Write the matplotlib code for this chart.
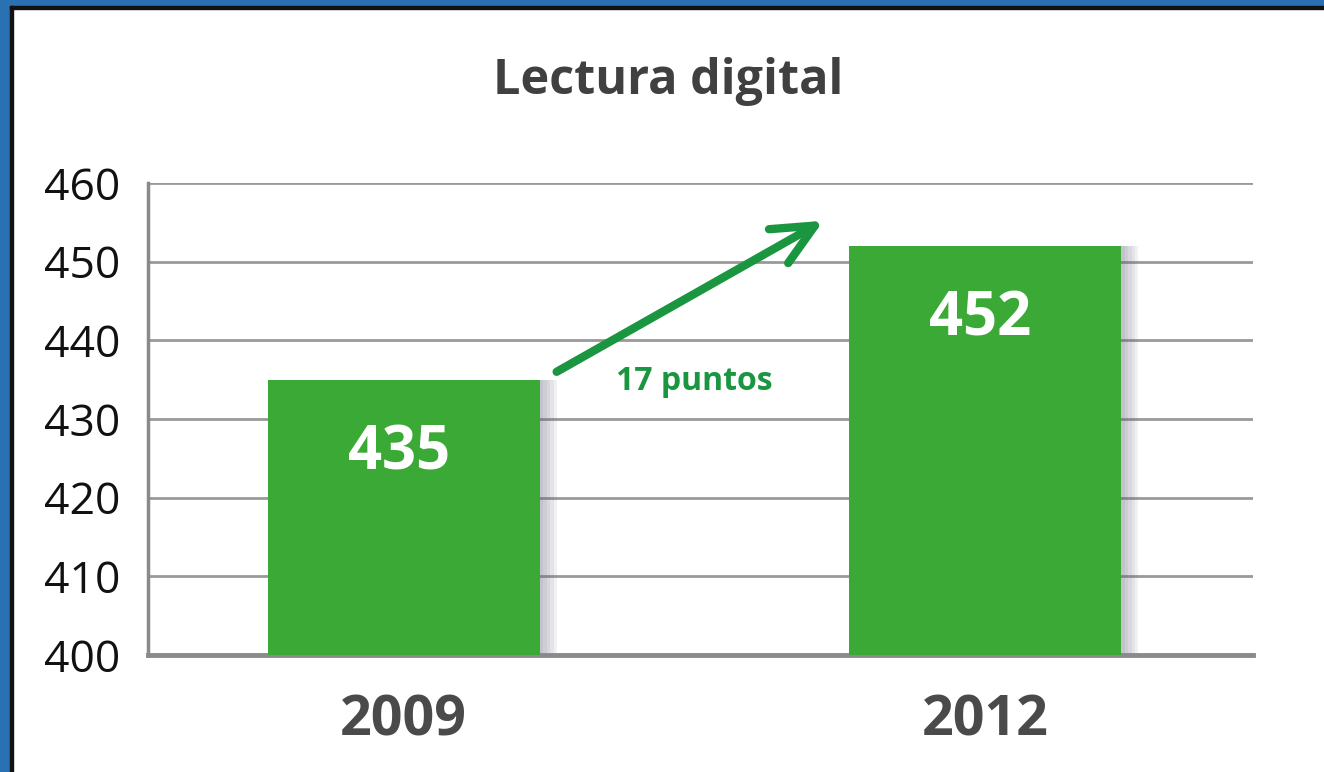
import matplotlib.pyplot as plt
from matplotlib.patches import Rectangle

years = ["2009", "2012"]
scores = [435, 452]
y_ticks = [400, 410, 420, 430, 440, 450, 460]
gain_label = "17 puntos"

plt.rcParams["font.family"] = ["Open Sans", "DejaVu Sans"]

fig = plt.figure(figsize=(13.24, 7.72), dpi=100)
fig.patch.set_facecolor("white")

# blue frame on top/left edges, thin dark line inside
fig.patches.append(Rectangle((0, 0), 10 / 1324, 1, transform=fig.transFigure,
                             color="#2a71b3", zorder=0))
fig.patches.append(Rectangle((0, 1 - 6 / 772), 1, 6 / 772, transform=fig.transFigure,
                             color="#2a71b3", zorder=0))
fig.patches.append(Rectangle((10 / 1324, 0), 3 / 1324, 1 - 6 / 772, transform=fig.transFigure,
                             color="#111111", zorder=1))
fig.patches.append(Rectangle((10 / 1324, 1 - 9 / 772), 1, 3 / 772, transform=fig.transFigure,
                             color="#111111", zorder=1))

ax = fig.add_axes([148 / 1324, 1 - 655 / 772, (1253 - 148) / 1324, (655 - 183) / 772])
x = list(range(len(years)))
width = 0.468

# soft shadow on the right of the bars
for off in [0.030, 0.024, 0.018, 0.012, 0.006]:
    ax.bar([v + off for v in x], [s - 400 for s in scores], width, bottom=400,
           color="#6a6080", alpha=0.09, zorder=2, linewidth=0)
ax.bar(x, [s - 400 for s in scores], width, bottom=400, color="#3aa935", zorder=3, linewidth=0)

for xi, s in zip(x, scores):
    ax.text(xi - 0.008, s - 9.4, str(s), ha="center", va="center",
            color="white", fontsize=43, fontweight="bold", zorder=4)

ax.set_xlim(-0.44, 1.461)
ax.set_ylim(400, 460)
ax.set_yticks(y_ticks)
ax.yaxis.grid(True, color="#999999", linewidth=2)
ax.set_axisbelow(True)
for side in ["top", "right"]:
    ax.spines[side].set_visible(False)
ax.spines["left"].set_color("#8a8a8a")
ax.spines["left"].set_linewidth(2.5)
ax.spines["bottom"].set_color("#8a8a8a")
ax.spines["bottom"].set_linewidth(3.5)
ax.tick_params(axis="y", length=0, labelsize=32, pad=20, labelcolor="#111111")
ax.tick_params(axis="x", length=0, labelsize=40, pad=28, labelcolor="#4a4a4a")
ax.set_xticks(x)
ax.set_xticklabels(years, fontweight="bold")

ax.annotate("", xy=(0.722, 455.2), xytext=(0.263, 436.0),
            arrowprops=dict(arrowstyle="->,head_length=3.0,head_width=1.4",
                            color="#1a9640", lw=6, shrinkA=0, shrinkB=0), zorder=5)
ax.text(0.50, 434.8, gain_label, ha="center", va="center", color="#1a9640",
        fontsize=23, fontweight="bold")

fig.text(668 / 1324, 1 - 82 / 772, "Lectura digital", ha="center", va="center",
         fontsize=35, fontweight="bold", color="#404040")

fig.savefig("out.png", dpi=100)
